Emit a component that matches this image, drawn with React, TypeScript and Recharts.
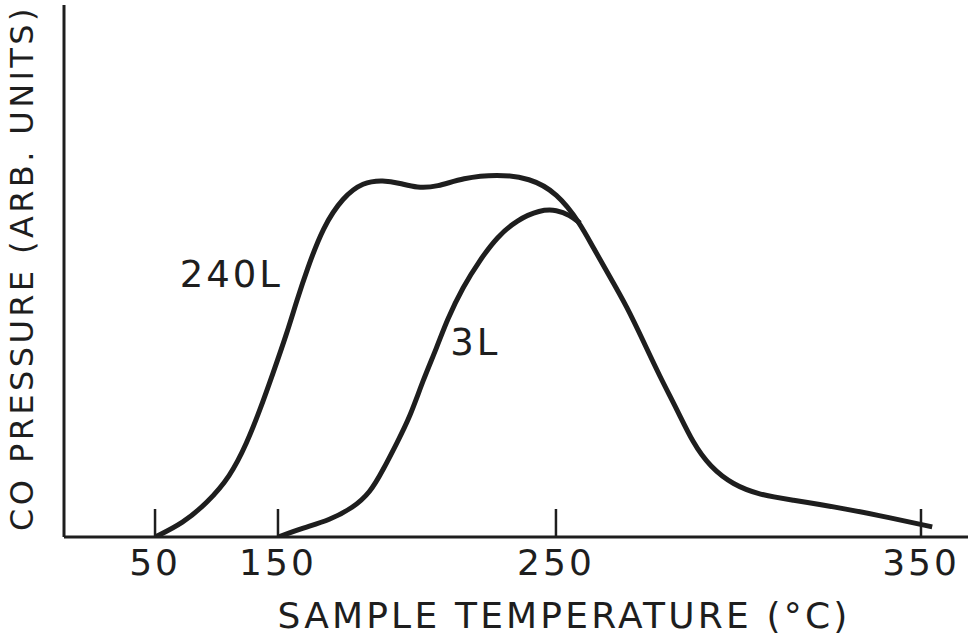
import React from 'react';
import { ComposedChart, Line, XAxis, YAxis, ReferenceDot, Label } from 'recharts';

// Sample temperature (°C) and CO pressure (arb. units)
const temp240L = [50, 72.8, 92.3, 111, 124.8, 135.4, 146, 153.2, 156.8, 160.4, 166.2, 173.4, 180.6, 187.8, 193.9, 200, 207.2, 216.5, 228.8, 240.6, 250.3, 256.6, 260.1, 264.8, 269.5, 273.8, 278.5, 283.2, 287.5, 292.2, 298.5, 305.9, 314.2, 327.9, 341.6, 353.1];
const pres240L = [0, 2.6, 6.4, 11.3, 17.7, 23.9, 30.8, 38.3, 44.5, 50.2, 58.3, 63.9, 66.7, 67.1, 66.5, 65.6, 65.8, 67.5, 68.2, 67.5, 64.7, 59.0, 54.5, 48.9, 43.2, 37.0, 30.1, 23.9, 17.7, 13.2, 9.8, 7.9, 7.0, 5.5, 3.6, 1.9];

const temp3L = [150, 159, 168.7, 177, 183.1, 187.8, 192.8, 197.5, 202.2, 207.2, 210.8, 216.5, 222.7, 228.8, 236, 244.2, 250.3, 253.8, 256.6];
const pres3L = [0, 1.7, 3.2, 5.5, 8.3, 12.6, 17.7, 22.6, 29.5, 35.7, 40.8, 47.0, 52.1, 56.4, 59.6, 61.5, 61.5, 60.5, 59.0];

const xTicks = [50, 150, 250, 350];
const xDomain = [-24, 363];
const yDomain = [0, 100];

const seriesLabels = [
  { name: '240L', t: 112, p: 49.4 },
  { name: '3L', t: 221, p: 36.5 },
];

const data240L = temp240L.map((t, i) => ({ t, p: pres240L[i] }));
const data3L = temp3L.map((t, i) => ({ t, p: pres3L[i] }));

// The original axis is not linear: tick marks are unevenly spaced.
// Piecewise-linear scale: domain knots -> fraction of the axis length.
const knotT = [-24, 50, 150, 250, 350, 363];
const knotF = [0, 0.1007, 0.2367, 0.5442, 0.948, 1];

function piecewiseScale(): any {
  let dom = [xDomain[0], xDomain[1]];
  let rng = [0, 1];
  const s: any = (v: number) => {
    let i = 0;
    while (i < knotT.length - 2 && v > knotT[i + 1]) i++;
    const f = knotF[i] + ((v - knotT[i]) / (knotT[i + 1] - knotT[i])) * (knotF[i + 1] - knotF[i]);
    return rng[0] + f * (rng[1] - rng[0]);
  };
  s.domain = (d?: number[]) => {
    if (d) { dom = d.slice(); return s; }
    return dom.slice();
  };
  s.range = (r?: number[]) => {
    if (r) { rng = r.slice(); return s; }
    return rng.slice();
  };
  s.copy = () => {
    const c = piecewiseScale();
    c.domain(dom);
    c.range(rng);
    return c;
  };
  s.ticks = () => xTicks.slice();
  s.invert = (px: number) => {
    const f = (px - rng[0]) / (rng[1] - rng[0]);
    let i = 0;
    while (i < knotF.length - 2 && f > knotF[i + 1]) i++;
    return knotT[i] + ((f - knotF[i]) / (knotF[i + 1] - knotF[i])) * (knotT[i + 1] - knotT[i]);
  };
  return s;
}

const INK = '#1e1e1e';
const FONT = '"DejaVu Sans", sans-serif';

const XTick = (props: any) => {
  const { x, y, payload } = props;
  const axisY = y - 8;
  return (
    <g>
      <line x1={x} x2={x} y1={axisY} y2={axisY - 28} stroke={INK} strokeWidth={2.5} />
      <text x={x} y={axisY + 38} textAnchor="middle" fontFamily={FONT} fontSize={36} letterSpacing={3} fill={INK}>
        {payload.value}
      </text>
    </g>
  );
};

const YTitle = (props: any) => {
  const { viewBox } = props;
  const cx = viewBox.x + 22;
  const cy = viewBox.y + viewBox.height / 2 - 3;
  return (
    <text x={cx} y={cy} transform={`rotate(-90 ${cx} ${cy})`} textAnchor="middle" dominantBaseline="central" fontFamily={FONT} fontSize={32} letterSpacing={3.4} fill={INK}>
      CO PRESSURE (ARB. UNITS)
    </text>
  );
};

const XTitle = (props: any) => {
  const { viewBox } = props;
  const cx = viewBox.x + viewBox.width / 2 + 48;
  return (
    <text x={cx} y={viewBox.y + 91} textAnchor="middle" fontFamily={FONT} fontSize={36} letterSpacing={3.2} fill={INK}>
      SAMPLE TEMPERATURE (°C)
    </text>
  );
};

const SeriesLabel = (text: string) => (props: any) => {
  const { viewBox } = props;
  const cx = viewBox.x + (viewBox.width || 0) / 2;
  const cy = viewBox.y + (viewBox.height || 0) / 2;
  return (
    <text x={cx} y={cy} textAnchor="middle" dominantBaseline="central" fontFamily={FONT} fontSize={37} letterSpacing={3} fill={INK}>
      {text}
    </text>
  );
};

export default function App() {
  return (
    <div style={{ position: 'absolute', left: 0, top: 0, background: '#fff' }}>
      <ComposedChart width={968} height={641} margin={{ top: 5, right: 0, bottom: 0, left: 0 }}>
        <XAxis
          type="number"
          dataKey="t"
          domain={xDomain}
          allowDataOverflow
          scale={piecewiseScale()}
          ticks={xTicks}
          interval={0}
          height={104}
          tickLine={false}
          axisLine={{ stroke: INK, strokeWidth: 3 }}
          tick={<XTick />}
        >
          <Label content={<XTitle />} />
        </XAxis>
        <YAxis
          type="number"
          dataKey="p"
          domain={yDomain}
          allowDataOverflow
          width={64}
          tick={false}
          tickLine={false}
          axisLine={{ stroke: INK, strokeWidth: 3 }}
        >
          <Label content={<YTitle />} />
        </YAxis>
        <Line data={data240L} dataKey="p" type="basis" stroke={INK} strokeWidth={5} dot={false} isAnimationActive={false} />
        <Line data={data3L} dataKey="p" type="basis" stroke={INK} strokeWidth={5} dot={false} isAnimationActive={false} />
        {seriesLabels.map((s) => (
          <ReferenceDot key={s.name} x={s.t} y={s.p} r={0} fill="none" stroke="none" label={{ content: SeriesLabel(s.name) }} />
        ))}
      </ComposedChart>
    </div>
  );
}
